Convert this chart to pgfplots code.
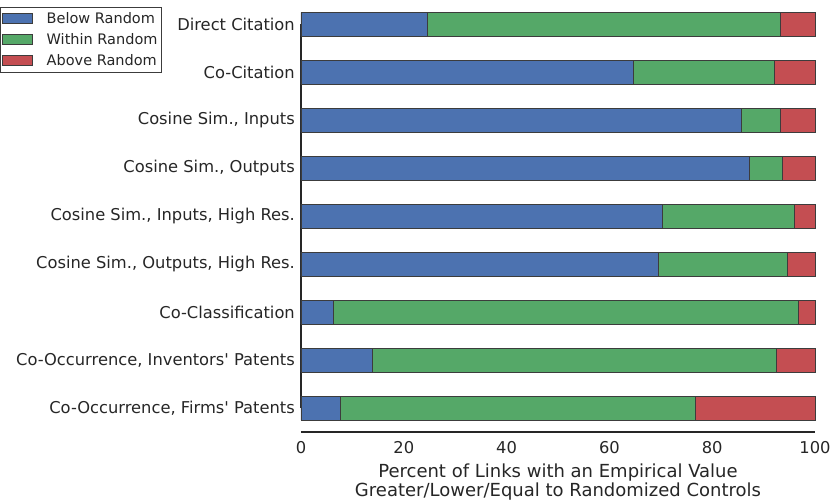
\documentclass[border=0pt]{standalone}
\usepackage{pgfplots}
\pgfplotsset{compat=1.18}
\usepackage{fontspec}
\setmainfont{DejaVu Sans}[Ligatures=TeXOff]
\definecolor{sblue}{HTML}{4C72B0}
\definecolor{sgreen}{HTML}{55A868}
\definecolor{sred}{HTML}{C44E52}
\definecolor{txt}{HTML}{262626}
\definecolor{edge}{HTML}{3C3C3C}
\begin{document}
\begin{tikzpicture}
\path[use as bounding box] (0pt,0pt) rectangle (831pt,500pt);
\begin{axis}[
  at={(301pt,68pt)}, anchor=south west,
  scale only axis, width=514pt, height=422pt,
  xbar stacked, bar width=0.5,
  y dir=reverse,
  xmin=0, xmax=100, ymin=-0.3, ymax=8.5,
  ytick={0,...,8},
  yticklabels={Direct Citation,Co-Citation,{Cosine Sim., Inputs},{Cosine Sim., Outputs},{Cosine Sim., Inputs, High Res.},{Cosine Sim., Outputs, High Res.},Co-Classification,{Co-Occurrence, Inventors' Patents},{Co-Occurrence, Firms' Patents}},
  xtick={0,20,...,100},
  axis line style={draw=none},
  major tick length=0pt,
  tick label style={font=\fontsize{16.3}{19}\selectfont, text=txt},
  /pgf/number format/assume math mode=true,
  xticklabel style={inner sep=0pt, anchor=north, yshift=-9pt},
  yticklabel style={inner sep=0pt, anchor=east, xshift=-6pt},
  clip=false,
  legend style={at={(axis description cs:-0.5856,1.007)}, anchor=north west,
    draw=edge, line width=0.8pt, font=\fontsize{14.5}{17}\selectfont, text=txt,
    inner xsep=2pt, inner ysep=3pt, row sep=4.5pt},
  legend cell align=left,
  legend image code/.code={\draw[#1, line width=0.6pt] (0pt,-5pt) rectangle (30pt,5pt);
    \path[draw=none, fill=none] (0pt,0pt) -- (42pt,0pt);},
]
\addplot[fill=sblue, draw=edge, line width=0.6pt] coordinates {
 (24.6,0) (64.6,1) (85.7,2) (87.2,3) (70.3,4) (69.5,5) (6.3,6) (13.9,7) (7.7,8)};
\addplot[fill=sgreen, draw=edge, line width=0.6pt] coordinates {
 (68.7,0) (27.4,1) (7.5,2) (6.4,3) (25.6,4) (25.1,5) (90.5,6) (78.6,7) (69.0,8)};
\addplot[fill=sred, draw=edge, line width=0.6pt] coordinates {
 (6.7,0) (8.0,1) (6.8,2) (6.4,3) (4.1,4) (5.4,5) (3.2,6) (7.5,7) (23.3,8)};
\legend{Below Random,Within Random,Above Random}
\draw[txt, line width=1.25pt] (axis cs:0,0) -- (axis cs:0,8);
\draw[txt, line width=1.25pt] (axis cs:0,8.5) -- (axis cs:100,8.5);
\end{axis}
\node[anchor=base, inner sep=0pt, text=txt, font=\fontsize{18}{20}\selectfont]
  at (558pt,22.5pt) {Percent of Links with an Empirical Value};
\node[anchor=base, inner sep=0pt, text=txt, font=\fontsize{18}{20}\selectfont]
  at (558pt,3pt) {Greater/Lower/Equal to Randomized Controls};
\end{tikzpicture}
\end{document}
